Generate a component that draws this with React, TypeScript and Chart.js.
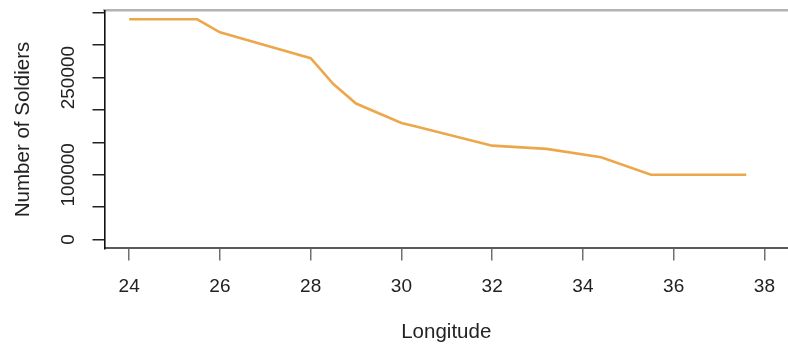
import React, { useEffect, useRef } from 'react';
import { Chart, registerables } from 'chart.js';

Chart.register(...registerables);

// Longitude of each observation along the advance
const longitude = [24.0, 24.5, 25.5, 26.0, 27.0, 28.0, 28.5, 29.0, 30.0, 30.3, 32.0, 33.2, 34.4, 35.5, 36.0, 37.6];
// Number of soldiers at each longitude
const survivors = [340000, 340000, 340000, 320000, 300000, 280000, 240000, 210000, 180000, 175000, 145000, 140000, 127100, 100000, 100000, 100000];
// Axis tick positions
const xTickValues = [24, 26, 28, 30, 32, 34, 36, 38];
const yTickValues = [0, 50000, 100000, 150000, 200000, 250000, 300000, 350000];
// Y tick values that carry a printed label
const yLabeledTicks = [0, 100000, 250000];

const X_MIN = 23.456;
const X_MAX = 38.52;
const Y_MIN = -13600;
const Y_MAX = 353600;

export default function App() {
  const ref = useRef<HTMLCanvasElement>(null);

  useEffect(() => {
    document.body.style.margin = '0';
    const family = '"Liberation Sans", Arial, Helvetica, sans-serif';
    const tickFont = { family, size: 19 };
    const titleFont = { family, size: 20.5 };
    const textColor = '#222222';
    const zeroPad = (s: any) => {
      s.paddingTop = 0;
      s.paddingBottom = 0;
      s.paddingLeft = 0;
      s.paddingRight = 0;
    };
    const chart = new Chart(ref.current!, {
      type: 'line',
      data: {
        datasets: [
          {
            data: longitude.map((x, i) => ({ x, y: survivors[i] })),
            borderColor: '#EDA74B',
            borderWidth: 2.6,
            pointRadius: 0,
            tension: 0,
            fill: false,
          },
        ],
      },
      options: {
        animation: false,
        responsive: false,
        devicePixelRatio: 1,
        layout: { padding: 0 },
        plugins: { legend: { display: false }, tooltip: { enabled: false } },
        scales: {
          x: {
            type: 'linear',
            position: 'bottom',
            min: X_MIN,
            max: X_MAX,
            afterBuildTicks: (s: any) => {
              s.ticks = xTickValues.map((v) => ({ value: v }));
            },
            afterFit: (s: any) => {
              s.height = 95.6;
              zeroPad(s);
            },
            border: { display: true, color: '#5a5a5a', width: 2 },
            grid: { drawOnChartArea: false, drawTicks: true, tickLength: 12, color: '#707070', lineWidth: 1.5 },
            ticks: {
              autoSkip: false,
              minRotation: 0,
              maxRotation: 0,
              padding: 14.5,
              color: textColor,
              font: tickFont,
              callback: (v: any) => String(v),
            },
            title: { display: true, text: 'Longitude', color: textColor, font: titleFont, padding: { top: 0, bottom: -0.5 } },
          },
          x2: {
            type: 'linear',
            position: 'top',
            min: X_MIN,
            max: X_MAX,
            afterFit: (s: any) => {
              s.height = 10.5;
              zeroPad(s);
            },
            border: { display: true, color: '#b3b3b3', width: 2.5 },
            grid: { drawOnChartArea: false, drawTicks: false },
            ticks: { display: false },
          },
          y: {
            type: 'linear',
            position: 'left',
            min: Y_MIN,
            max: Y_MAX,
            afterBuildTicks: (s: any) => {
              s.ticks = yTickValues.map((v) => ({ value: v }));
            },
            afterFit: (s: any) => {
              s.width = 104.5;
              zeroPad(s);
            },
            border: { display: true, color: '#111111', width: 1.6 },
            grid: { drawOnChartArea: false, drawTicks: true, tickLength: 12, color: '#222222', lineWidth: 1.5 },
            ticks: {
              autoSkip: false,
              minRotation: 90,
              maxRotation: 90,
              crossAlign: 'center',
              padding: -8,
              color: textColor,
              font: tickFont,
              callback: (v: any) => (yLabeledTicks.includes(Number(v)) ? String(v) : ''),
            },
            title: {
              display: true,
              text: 'Number of Soldiers',
              color: textColor,
              font: titleFont,
              padding: { top: 10.6, bottom: 0 },
            },
          },
        },
      } as any,
    });
    return () => chart.destroy();
  }, []);

  return <canvas ref={ref} width={788} height={344} style={{ display: 'block' }} />;
}
